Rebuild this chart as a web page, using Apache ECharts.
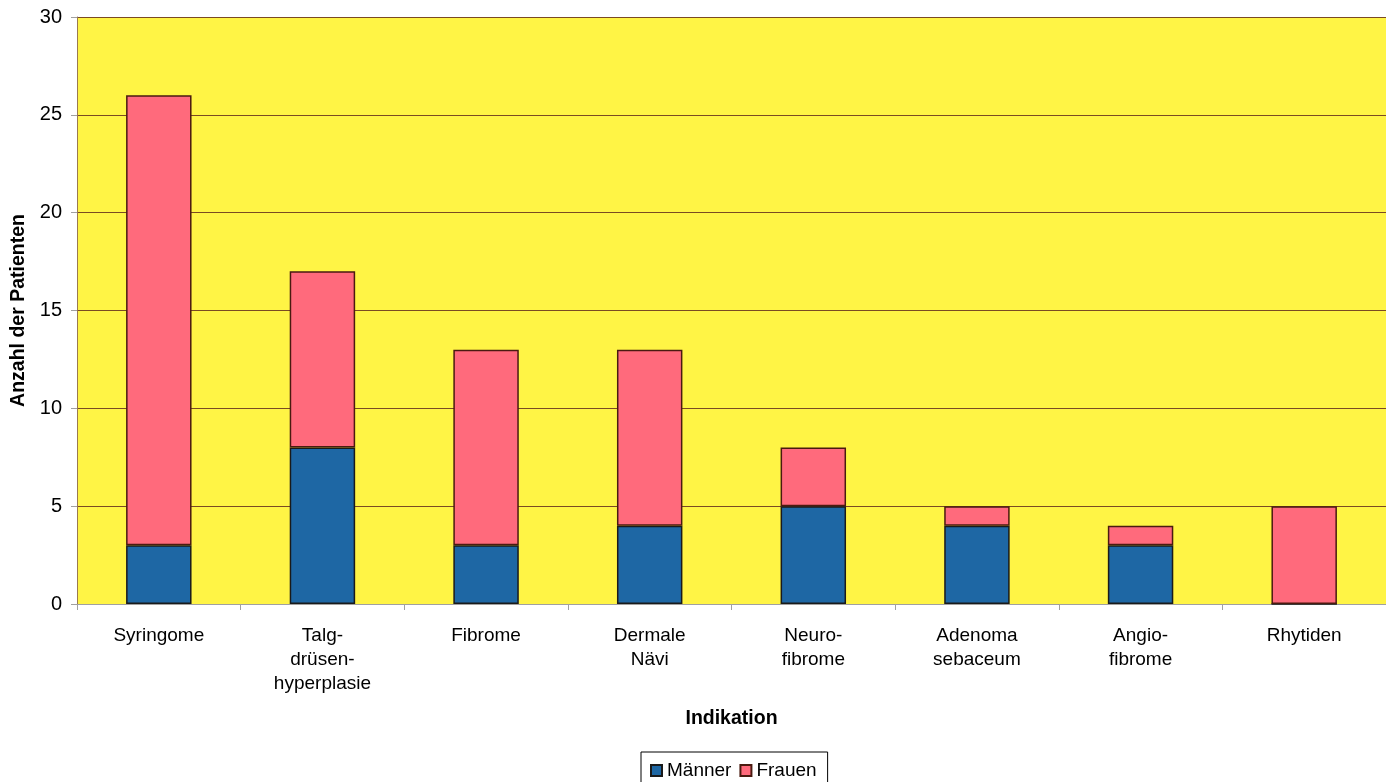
<!DOCTYPE html>
<html>
<head>
<meta charset="utf-8">
<script src="https://cdn.jsdelivr.net/npm/echarts@6/dist/echarts.min.js"></script>
<style>
  html, body { margin: 0; padding: 0; background: #fff; }
  #chart { width: 1386px; height: 782px; }
</style>
</head>
<body>
<div id="chart"></div>
<script>
// Indikationen (x-axis categories)
const categories = [
  'Syringome',
  'Talg-\ndrüsen-\nhyperplasie',
  'Fibrome',
  'Dermale\nNävi',
  'Neuro-\nfibrome',
  'Adenoma\nsebaceum',
  'Angio-\nfibrome',
  'Rhytiden'
];
// Patient counts per group
const maenner = [3, 8, 3, 4, 5, 4, 3, 0];
const frauen = [23, 9, 10, 9, 3, 1, 1, 5];
// Value axis ticks
const yMin = 0, yMax = 30, yStep = 5;

const chart = echarts.init(document.getElementById('chart'));
const font = 'Liberation Sans, Arial, sans-serif';

chart.setOption({
  animation: false,
  backgroundColor: '#ffffff',
  grid: {
    left: 77, right: 0, top: 17, bottom: 178,
    show: true,
    backgroundColor: '#fff445',
    borderWidth: 0
  },
  legend: {
    data: ['Männer', 'Frauen'],
    top: 752,
    left: 641,
    orient: 'horizontal',
    itemWidth: 11,
    itemHeight: 11,
    itemGap: 8,
    padding: [9, 11, 10, 9],
    borderColor: '#000',
    borderWidth: 1,
    borderRadius: 0,
    textStyle: { fontFamily: font, fontSize: 19, color: '#000' },
    icon: 'rect'
  },
  xAxis: {
    type: 'category',
    data: categories,
    name: 'Indikation',
    nameLocation: 'middle',
    nameGap: 105,
    nameTextStyle: { fontFamily: font, fontSize: 19.5, fontWeight: 'bold', color: '#000' },
    axisLine: { show: true, lineStyle: { color: '#a0a0a0', width: 1 } },
    axisTick: { show: true, length: 6, lineStyle: { color: '#a0a0a0' } },
    axisLabel: {
      fontFamily: font, fontSize: 19, color: '#000',
      margin: 20, lineHeight: 24, interval: 0
    }
  },
  yAxis: {
    type: 'value',
    min: yMin, max: yMax, interval: yStep,
    name: 'Anzahl der Patienten',
    nameLocation: 'middle',
    nameGap: 48,
    nameRotate: 90,
    nameTextStyle: { fontFamily: font, fontSize: 19.5, fontWeight: 'bold', color: '#000' },
    axisLine: { show: true, lineStyle: { color: '#9a7a50', width: 1 } },
    axisTick: { show: true, length: 6, lineStyle: { color: '#a0a0a0' } },
    axisLabel: { fontFamily: font, fontSize: 20, color: '#000', margin: 15 },
    splitLine: { show: true, lineStyle: { color: '#7a4a22', width: 1.2 } }
  },
  series: [
    {
      name: 'Männer',
      type: 'bar',
      stack: 'total',
      data: maenner,
      barWidth: '40%',
      itemStyle: { color: '#1e67a4', borderColor: '#1a1a1a', borderWidth: 1.5 }
    },
    {
      name: 'Frauen',
      type: 'bar',
      stack: 'total',
      data: frauen,
      barWidth: '40%',
      itemStyle: { color: '#ff6a7c', borderColor: '#4a1a10', borderWidth: 1.5 }
    }
  ]
});
</script>
</body>
</html>
